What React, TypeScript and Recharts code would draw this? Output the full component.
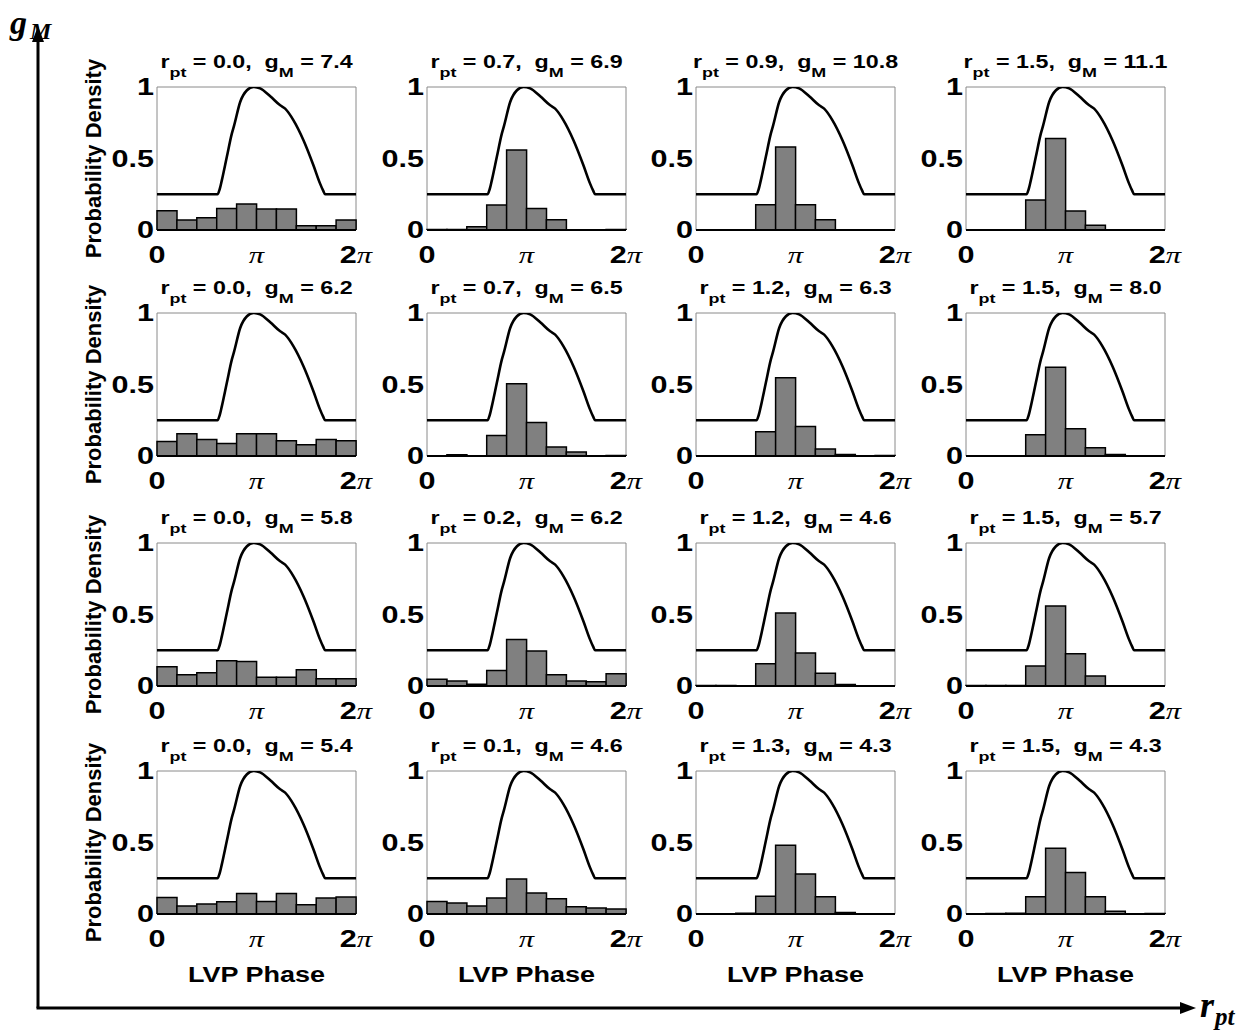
import React from "react";
import { ComposedChart, Bar, Line, XAxis, YAxis, ReferenceArea, Label } from "recharts";

// phase axis is in units of pi
const phaseTicks = [0, 1, 2];
const phaseTickLabels = ["0", "π", "2π"];
const densityTicks = [0, 0.5, 1];
const densityTickLabels = ["0", "0.5", "1"];
const binNames = ["1", "2", "3", "4", "5", "6", "7", "8", "9", "10"];

// normalised LVP waveform (same in every panel)
const curvePhase = [0, 0.608, 0.63, 0.652, 0.702, 0.752, 0.776, 0.836, 0.904, 0.97, 1.036, 1.138, 1.238, 1.288, 1.372, 1.472, 1.572, 1.638, 1.67, 1.69, 2];
const curveValue = [0.25, 0.25, 0.285, 0.349, 0.512, 0.674, 0.733, 0.895, 0.977, 1.0, 0.99, 0.935, 0.872, 0.849, 0.767, 0.628, 0.453, 0.326, 0.275, 0.25, 0.25];

const rptRow1 = [0.0, 0.7, 0.9, 1.5];
const gmRow1 = [7.4, 6.9, 10.8, 11.1];
const rptRow2 = [0.0, 0.7, 1.2, 1.5];
const gmRow2 = [6.2, 6.5, 6.3, 8.0];
const rptRow3 = [0.0, 0.2, 1.2, 1.5];
const gmRow3 = [5.8, 6.2, 4.6, 5.7];
const rptRow4 = [0.0, 0.1, 1.3, 1.5];
const gmRow4 = [5.4, 4.6, 4.3, 4.3];

const hist11 = [0.135, 0.07, 0.086, 0.151, 0.181, 0.147, 0.147, 0.03, 0.03, 0.07];
const hist12 = [0.003, 0.003, 0.023, 0.175, 0.56, 0.15, 0.072, 0, 0, 0.003];
const hist13 = [0, 0, 0, 0.177, 0.58, 0.177, 0.072, 0, 0, 0];
const hist14 = [0, 0, 0, 0.21, 0.64, 0.133, 0.033, 0, 0, 0];
const hist21 = [0.102, 0.156, 0.116, 0.088, 0.156, 0.156, 0.107, 0.079, 0.116, 0.107];
const hist22 = [0, 0.008, 0, 0.144, 0.505, 0.235, 0.063, 0.028, 0, 0.004];
const hist23 = [0, 0, 0, 0.17, 0.547, 0.207, 0.049, 0.01, 0, 0.003];
const hist24 = [0, 0, 0, 0.149, 0.62, 0.19, 0.058, 0.01, 0, 0];
const hist31 = [0.135, 0.079, 0.093, 0.177, 0.172, 0.061, 0.061, 0.114, 0.051, 0.051];
const hist32 = [0.047, 0.035, 0.012, 0.109, 0.326, 0.244, 0.079, 0.035, 0.03, 0.086];
const hist33 = [0.003, 0.003, 0, 0.155, 0.51, 0.23, 0.09, 0.01, 0, 0];
const hist34 = [0.003, 0.003, 0.003, 0.14, 0.56, 0.225, 0.07, 0, 0, 0];
const hist41 = [0.116, 0.056, 0.07, 0.086, 0.144, 0.088, 0.144, 0.065, 0.112, 0.119];
const hist42 = [0.088, 0.077, 0.056, 0.112, 0.245, 0.147, 0.107, 0.051, 0.042, 0.035];
const hist43 = [0, 0, 0.005, 0.125, 0.48, 0.28, 0.12, 0.01, 0, 0];
const hist44 = [0, 0.003, 0.005, 0.12, 0.46, 0.29, 0.12, 0.02, 0, 0.003];

const rptRows = [rptRow1, rptRow2, rptRow3, rptRow4];
const gmRows = [gmRow1, gmRow2, gmRow3, gmRow4];
const histRows = [
  [hist11, hist12, hist13, hist14],
  [hist21, hist22, hist23, hist24],
  [hist31, hist32, hist33, hist34],
  [hist41, hist42, hist43, hist44],
];

const SANS = "'Liberation Sans', Arial, Helvetica, sans-serif";
const SERIF = "'Liberation Serif', 'Times New Roman', serif";
const STRETCH = 1.33;

const colLeft = [157, 427, 696, 966];
const rowTop = [87, 313, 543, 771];
const plotW = 199;
const plotH = 143;
const yAxisW = 80;
const marginTop = 40;
const marginRight = 30;

const curveRows = curvePhase.map((p, i) => ({ phase: p, value: curveValue[i] }));

function PhaseTick(props: any) {
  const { x, y, payload } = props;
  const label = phaseTickLabels[phaseTicks.indexOf(payload.value)] ?? "";
  const head = label.replace("π", "");
  const hasPi = label.includes("π");
  return (
    <g transform={`translate(${x},${y + 33}) scale(${STRETCH},1)`}>
      <text textAnchor="middle" fontFamily={SANS} fontWeight="bold" fontSize={23} fill="#000">
        {head}
        {hasPi && (
          <tspan fontFamily={SERIF} fontStyle="italic" fontWeight="normal">
            π
          </tspan>
        )}
      </text>
    </g>
  );
}

function DensityTick(props: any) {
  const { x, y, payload } = props;
  const label = densityTickLabels[densityTicks.indexOf(payload.value)] ?? "";
  return (
    <g transform={`translate(${x - 3},${y}) scale(${STRETCH},1)`}>
      <text textAnchor="end" dy="0.36em" fontFamily={SANS} fontWeight="bold" fontSize={23} fill="#000">
        {label}
      </text>
    </g>
  );
}

function HistPanel({ hist, showY, showX }: { hist: number[]; showY: boolean; showX: boolean }) {
  const binRows = binNames.map((b, i) => ({ bin: b, density: hist[i] }));
  const xAxisH = showX ? 90 : 45;
  return (
    <ComposedChart
      width={yAxisW + plotW + marginRight}
      height={marginTop + plotH + xAxisH}
      data={binRows}
      margin={{ top: marginTop, right: marginRight, left: 0, bottom: 0 }}
      barCategoryGap={0}
      barGap={0}
    >
      <XAxis xAxisId="bin" dataKey="bin" orientation="top" height={0} hide />
      <XAxis
        xAxisId="phase"
        type="number"
        dataKey="phase"
        domain={[0, 2]}
        ticks={phaseTicks}
        interval={0}
        allowDataOverflow
        height={xAxisH}
        tickSize={0}
        tickMargin={0}
        tickLine={false}
        axisLine={{ stroke: "#000", strokeWidth: 2 }}
        tick={<PhaseTick />}
      >
        {showX && (
          <Label
            content={(p: any) => {
              const vb = p.viewBox;
              return (
                <g transform={`translate(${vb.x + vb.width / 2},${vb.y + 68}) scale(1.2,1)`}>
                  <text textAnchor="middle" fontFamily={SANS} fontWeight="bold" fontSize={22.5} fill="#000">
                    LVP Phase
                  </text>
                </g>
              );
            }}
          />
        )}
      </XAxis>
      <YAxis
        domain={[0, 1]}
        ticks={densityTicks}
        interval={0}
        allowDataOverflow
        width={yAxisW}
        tickSize={0}
        tickMargin={0}
        tickLine={false}
        axisLine={false}
        tick={<DensityTick />}
      >
        {showY && (
          <Label
            content={(p: any) => {
              const vb = p.viewBox;
              const cx = vb.x + 16;
              const cy = vb.y + vb.height / 2;
              return (
                <text
                  x={cx}
                  y={cy}
                  transform={`rotate(-90,${cx},${cy})`}
                  textAnchor="middle"
                  dy="0.36em"
                  fontFamily={SANS}
                  fontWeight="bold"
                  fontSize={22}
                  fill="#000"
                >
                  Probability Density
                </text>
              );
            }}
          />
        )}
      </YAxis>
      <ReferenceArea xAxisId="phase" x1={0} x2={2} y1={0} y2={1} fill="none" stroke="#8a8a8a" strokeWidth={1} />
      <Bar xAxisId="bin" dataKey="density" fill="#808080" stroke="#000" strokeWidth={1.5} isAnimationActive={false} />
      <Line
        xAxisId="phase"
        data={curveRows}
        dataKey="value"
        type="monotone"
        stroke="#000"
        strokeWidth={2.6}
        dot={false}
        activeDot={false}
        isAnimationActive={false}
      />
    </ComposedChart>
  );
}

function Title({ cx, baseline, rpt, gm }: { cx: number; baseline: number; rpt: number; gm: number }) {
  return (
    <g transform={`translate(${cx},${baseline}) scale(${STRETCH},1)`}>
      <text textAnchor="middle" fontFamily={SANS} fontWeight="bold" fontSize={17.5} fill="#000" style={{ whiteSpace: "pre" }}>
        r
        <tspan fontSize={13.5} dy={9}>pt</tspan>
        <tspan dy={-9}>{` = ${rpt.toFixed(1)},  g`}</tspan>
        <tspan fontSize={13.5} dy={9}>M</tspan>
        <tspan dy={-9}>{` = ${gm.toFixed(1)}`}</tspan>
      </text>
    </g>
  );
}

export default function App() {
  return (
    <div style={{ position: "absolute", left: 0, top: 0, width: 1258, height: 1034, background: "#fff" }}>
      {histRows.map((row, r) =>
        row.map((hist, c) => (
          <div
            key={`${r}-${c}`}
            style={{ position: "absolute", left: colLeft[c] - yAxisW, top: rowTop[r] - marginTop }}
          >
            <HistPanel hist={hist} showY={c === 0} showX={r === 3} />
          </div>
        ))
      )}
      <svg
        width={1258}
        height={1034}
        style={{ position: "absolute", left: 0, top: 0, pointerEvents: "none" }}
      >
        {rowTop.map((top, r) =>
          colLeft.map((left, c) => (
            <Title key={`t${r}-${c}`} cx={left + plotW / 2} baseline={top - 19} rpt={rptRows[r][c]} gm={gmRows[r][c]} />
          ))
        )}
        {/* outer axes */}
        <line x1={38} y1={1008} x2={38} y2={40} stroke="#000" strokeWidth={3} />
        <polygon points="38,26 32,42 44,42" fill="#000" />
        <line x1={36.5} y1={1008} x2={1182} y2={1008} stroke="#000" strokeWidth={3} />
        <polygon points="1196,1008 1180,1002 1180,1014" fill="#000" />
        <text x={10} y={34} fontFamily={SERIF} fontStyle="italic" fontWeight="bold" fontSize={34} fill="#000">
          g<tspan fontSize={24} dx={3} dy={5}>M</tspan>
        </text>
        <text x={1200} y={1017} fontFamily={SERIF} fontStyle="italic" fontWeight="bold" fontSize={36} fill="#000">
          r<tspan fontSize={25} dx={1} dy={8}>pt</tspan>
        </text>
      </svg>
    </div>
  );
}
